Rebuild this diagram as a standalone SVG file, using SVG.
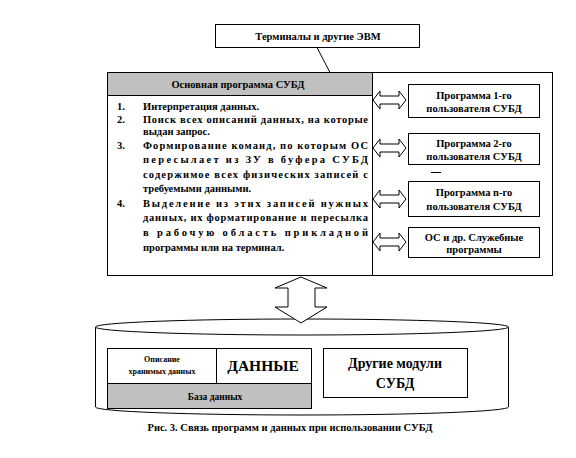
<svg xmlns="http://www.w3.org/2000/svg" width="576" height="458" viewBox="0 0 576 458">
<style>
  .box { fill: #fff; stroke: #000; stroke-width: 1; }
  .gray { fill: #c0c0c0; stroke: #000; stroke-width: 1; }
  .ln { fill: none; stroke: #000; stroke-width: 1; }
  .arr { fill: #fff; stroke: #000; stroke-width: 1; }
  .s { font-family: Liberation Serif, DejaVu Serif, Times New Roman, serif; font-weight: 700; fill: #000; }
  .t10 { font-size: 10.5px; }
  .c { text-anchor: middle; }
</style>
<rect width="576" height="458" fill="#fff"/>

<g id="terminals">
  <rect class="box" x="215.5" y="24.5" width="204" height="23"/>
  <text class="s t10 c" x="318" y="40" font-size="11">Терминалы и другие ЭВМ</text>
</g>

<g id="main">
  <rect class="box" x="107.5" y="72.5" width="445" height="203"/>
  <rect class="gray" x="107.5" y="72.5" width="265" height="23"/>
  <line class="ln" x1="372.5" y1="72.5" x2="372.5" y2="275.5"/>
  <text class="s t10 c" x="238" y="88">Основная программа СУБД</text>
  <g class="s t10">
    <text x="117" y="110">1.</text>
    <text x="143" y="110">Интерпретация данных.</text>
    <text x="117" y="123">2.</text>
    <text x="143" y="123" textLength="225" lengthAdjust="spacing">Поиск всех описаний данных, на которые</text>
    <text x="143" y="135">выдан запрос.</text>
    <text x="117" y="149">3.</text>
    <text x="143" y="149" textLength="225" lengthAdjust="spacing">Формирование команд, по которым ОС</text>
    <text x="143" y="163" textLength="225" lengthAdjust="spacing">пересылает из ЗУ в буфера СУБД</text>
    <text x="143" y="178" textLength="225" lengthAdjust="spacing">содержимое всех физических записей с</text>
    <text x="143" y="192">требуемыми данными.</text>
    <text x="117" y="207">4.</text>
    <text x="143" y="207" textLength="225" lengthAdjust="spacing">Выделение из этих записей нужных</text>
    <text x="143" y="221" textLength="225" lengthAdjust="spacing">данных, их форматирование и пересылка</text>
    <text x="143" y="236" textLength="225" lengthAdjust="spacing">в рабочую область прикладной</text>
    <text x="143" y="251">программы или на терминал.</text>
  </g>
</g>

<g id="prog1">
  <rect class="box" x="408.5" y="84.5" width="131" height="33"/>
  <text class="s t10 c" x="474" y="99">Программа 1-го</text>
  <text class="s t10 c" x="474" y="112">пользователя СУБД</text>
</g>
<g id="prog2">
  <rect class="box" x="408.5" y="133.5" width="131" height="31"/>
  <text class="s t10 c" x="474" y="147">Программа 2-го</text>
  <text class="s t10 c" x="474" y="160">пользователя СУБД</text>
</g>
<line class="ln" x1="431" y1="172.5" x2="441" y2="172.5" stroke-width="1.5"/>
<g id="progn">
  <rect class="box" x="408.5" y="181.5" width="131" height="35"/>
  <text class="s t10 c" x="474" y="196">Программа n-го</text>
  <text class="s t10 c" x="474" y="210">пользователя СУБД</text>
</g>
<g id="os">
  <rect class="box" x="408.5" y="227.5" width="131" height="30"/>
  <text class="s t10 c" x="474" y="241">ОС и др. Служебные</text>
  <text class="s t10 c" x="474" y="253" font-size="9.5">программы</text>
</g>

<g id="db-cylinder">
  <path class="box" d="M95.5 327 L95.5 407 A206.5 8 0 0 0 508.5 407 L508.5 327"/>
  <ellipse class="box" cx="302" cy="327" rx="206.5" ry="8"/>
  <rect class="box" x="107.5" y="348.5" width="204" height="35"/>
  <line class="ln" x1="216.5" y1="348.5" x2="216.5" y2="383.5"/>
  <rect class="gray" x="107.5" y="383.5" width="204" height="25"/>
  <text class="s c" x="162" y="362" font-size="8">Описание</text>
  <text class="s c" x="162" y="374" font-size="8">хранимых данных</text>
  <text class="s c" x="263" y="371" font-size="15.5">ДАННЫЕ</text>
  <text class="s c" x="215" y="400" font-size="9.5">База данных</text>
  <rect class="box" x="323.5" y="348.5" width="144" height="49"/>
  <text class="s c" x="395" y="368" font-size="14">Другие модули</text>
  <text class="s c" x="395" y="388" font-size="14">СУБД</text>
</g>

<g id="connectors">
  <line class="ln" x1="317" y1="47.5" x2="330" y2="72.5"/>
  <polygon class="arr" points="373,100 380,91 380,96 399,96 399,91 406,100 399,109 399,104 380,104 380,109"/>
  <polygon class="arr" points="373,148 380,139 380,144 399,144 399,139 406,148 399,157 399,152 380,152 380,157"/>
  <polygon class="arr" points="373,199 380,190 380,195 399,195 399,190 406,199 399,208 399,203 380,203 380,208"/>
  <polygon class="arr" points="373,242 380,233 380,238 399,238 399,233 406,242 399,251 399,246 380,246 380,251"/>
  <polygon class="arr" points="301,277 327,288 315,288 315,307 327,307 301,323 275,307 288,307 288,288 275,288"/>
</g>

<text class="s c" x="290" y="431" font-size="10.5">Рис. 3. Связь программ и данных при использовании СУБД</text>
</svg>
